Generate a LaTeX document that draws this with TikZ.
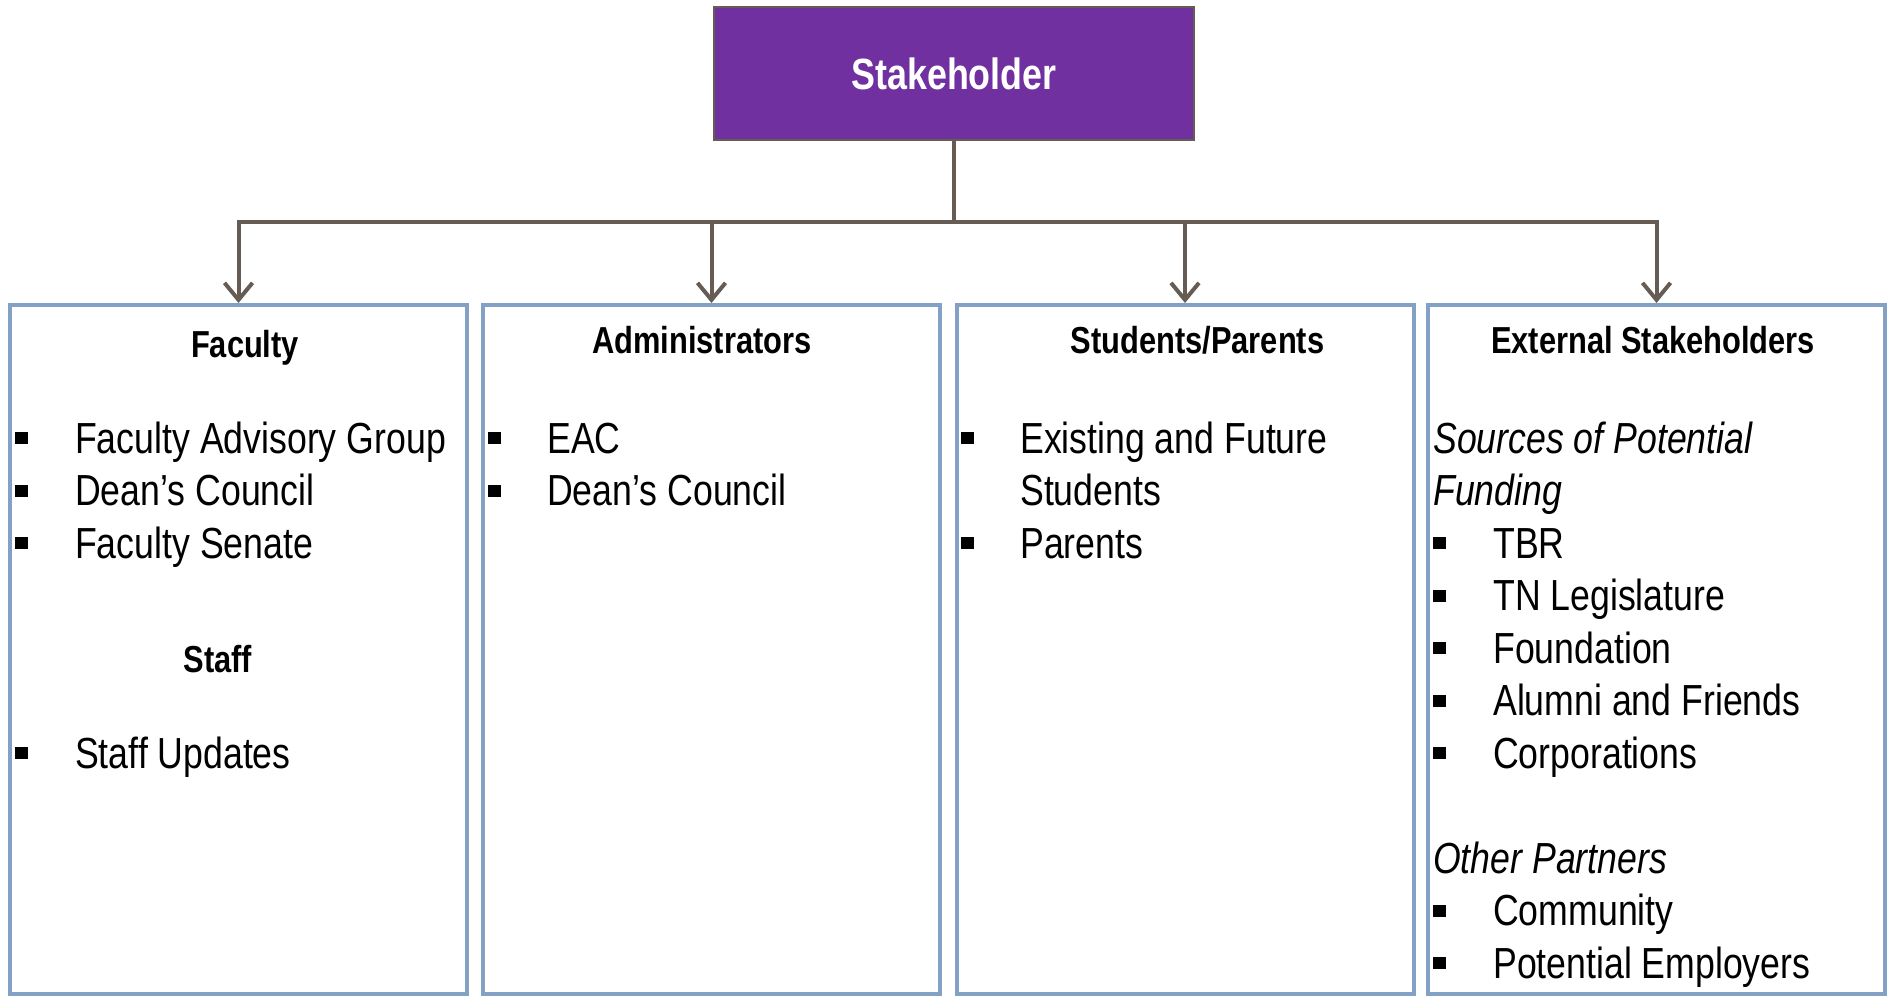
\documentclass[tikz,border=0pt]{standalone}
\usepackage{fontspec}
\setmainfont{Liberation Sans}[FakeStretch=0.82]
\usetikzlibrary{arrows.meta,positioning}
\definecolor{violet}{RGB}{112,48,160}
\definecolor{lien}{RGB}{103,92,83}
\definecolor{cadre}{RGB}{131,160,197}

\begin{document}
\begin{tikzpicture}[x=1pt,y=-1pt,
  chef/.style={draw=lien,line width=1.5pt,fill=violet,text=white,minimum width=480pt,
    minimum height=133pt,inner sep=0pt,font=\fontsize{43.7}{52}\selectfont\bfseries},
  colonne/.style={draw=cadre,line width=4pt,minimum width=457pt,minimum height=689pt,inner sep=0pt},
  titre/.style={anchor=base,inner sep=0pt,font=\fontsize{37.6}{45}\selectfont\bfseries},
  elt/.style={anchor=base west,inner sep=0pt,font=\fontsize{43.5}{52.5}\selectfont},
  sous/.style={elt,font=\fontsize{43.5}{52.5}\selectfont\itshape},
  fleche/.style={draw=lien,line width=4pt,-{Straight Barb[length=17pt,width=28pt]}}]
\useasboundingbox (0,0) rectangle (1889,998);

% boites
\node[chef] (stake) at (954,73.5) {Stakeholder};
\node[colonne] (fac) at (238.5,649.5) {};
\node[colonne] (adm) at (711.5,649.5) {};
\node[colonne] (etu) at (1185,649.5) {};
\node[colonne] (ext) at (1656.5,649.5) {};

% liens
\coordinate (bus) at (954,222);
\draw[lien,line width=4pt] (stake.south) -- (bus);
\foreach \c in {fac,adm,etu,ext}
\draw[fleche] (bus) -| (\c.north);

% Faculty
\node[titre] (tfac) at (245,357) {Faculty};
\node[elt] (fac1) at (75,453) {Faculty Advisory Group};
\node[elt] (fac2) at (75,505.5) {Dean’s Council};
\node[elt] (fac3) at (75,558) {Faculty Senate};
\node[titre] (tstaff) at (218,672) {Staff};
\node[elt] (staff1) at (75,768) {Staff Updates};

% Administrators
\node[titre] (tadm) at (702,353) {Administrators};
\node[elt] (adm1) at (547,453) {EAC};
\node[elt] (adm2) at (547,505.5) {Dean’s Council};

% Students/Parents
\node[titre] (tetu) at (1197.5,353) {Students/Parents};
\node[elt] (etu1) at (1020,453) {Existing and Future};
\node[elt] (etu2) at (1020,505.5) {Students};
\node[elt] (etu3) at (1020,558) {Parents};

% External Stakeholders
\node[titre] (text) at (1653,353) {External Stakeholders};
\node[sous] (ext0) at (1433,453) {Sources of Potential};
\node[sous] (ext00) at (1433,505.5) {Funding};
\node[elt] (ext1) at (1493,558) {TBR};
\node[elt] (ext2) at (1493,610.5) {TN Legislature};
\node[elt] (ext3) at (1493,663) {Foundation};
\node[elt] (ext4) at (1493,715.5) {Alumni and Friends};
\node[elt] (ext5) at (1493,768) {Corporations};
\node[sous] (ext6) at (1433,873) {Other Partners};
\node[elt] (ext7) at (1493,925.5) {Community};
\node[elt] (ext8) at (1493,978) {Potential Employers};

% puces
\foreach \x/\b in {15/453,15/505.5,15/558,15/768,488/453,488/505.5,961/453,961/558,
  1433/558,1433/610.5,1433/663,1433/715.5,1433/768,1433/925.5,1433/978}
\fill (\x,\b-21) rectangle ++(13,12);
\end{tikzpicture}
\end{document}
